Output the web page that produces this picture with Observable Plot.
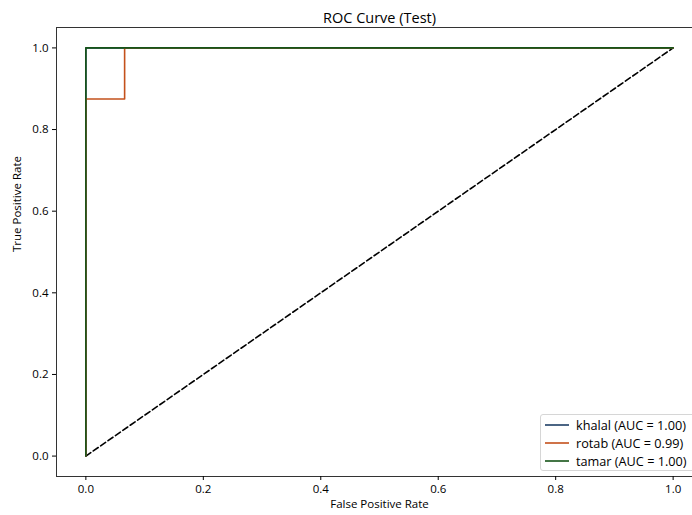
<!DOCTYPE html>
<html>
<head>
<meta charset="utf-8">
<script src="https://cdn.jsdelivr.net/npm/d3@7"></script>
<script src="https://cdn.jsdelivr.net/npm/@observablehq/plot@0.6"></script>
<style>
  html, body { margin: 0; padding: 0; background: #fff; overflow: hidden; width: 692px; height: 515px; }
  #wrap { position: relative; width: 692px; height: 515px; overflow: hidden; }
  #legend { position: absolute; left: 540px; top: 414px; width: 170px; height: 57px;
    border: 1px solid #d6d6d6; border-radius: 3px; background: rgba(255,255,255,0.8);
    font-family: "Open Sans", sans-serif; font-size: 12.7px; color: #000; box-sizing: border-box; padding-top: 1px; }
  .row { display: flex; align-items: center; height: 18px; white-space: nowrap; }
  .row svg { margin-left: 4px; margin-right: 7px; flex: none; }
</style>
</head>
<body>
<div id="wrap"></div>
<script>
// Data
const series = ["khalal", "rotab", "tamar"];
const aucs = ["1.00", "0.99", "1.00"];
const colors = ["#1f3f66", "#c4511c", "#165418"];
const khalalFpr = [0, 0, 1];
const khalalTpr = [0, 1, 1];
const rotabFpr = [0, 0, 0.066, 0.066, 1];
const rotabTpr = [0, 0.875, 0.875, 1, 1];
const tamarFpr = [0, 0, 1];
const tamarTpr = [0, 1, 1];
const chanceFpr = [0, 1];
const chanceTpr = [0, 1];
const xTicks = [0, 0.2, 0.4, 0.6, 0.8, 1.0];
const yTicks = [0, 0.2, 0.4, 0.6, 0.8, 1.0];

const toRows = (xs, ys, name) => xs.map((x, i) => ({x, y: ys[i], name}));
const curves = [
  toRows(khalalFpr, khalalTpr, "khalal"),
  toRows(rotabFpr, rotabTpr, "rotab"),
  toRows(tamarFpr, tamarTpr, "tamar")
];
const chance = toRows(chanceFpr, chanceTpr, "chance");

const font = "'Open Sans', sans-serif";

const plot = Plot.plot({
  width: 704,
  height: 515,
  marginLeft: 56,
  marginRight: 2,
  marginTop: 27,
  marginBottom: 39,
  style: { fontFamily: font, fontSize: "11.5px", color: "#000", background: "#fff" },
  x: { domain: [-0.05, 1.05] },
  y: { domain: [-0.05, 1.05] },
  marks: [
    Plot.line(chance, { x: "x", y: "y", stroke: "#000", strokeWidth: 1.6, strokeDasharray: "6,3" }),
    ...curves.map((rows, i) => Plot.line(rows, { x: "x", y: "y", stroke: colors[i], strokeWidth: 1.6 })),
    Plot.frame({ stroke: "#333", strokeWidth: 1 }),
    Plot.axisX({ ticks: xTicks, tickFormat: d3.format(".1f"), tickSize: 4, tickPadding: 4, label: null, fontSize: 11.5 }),
    Plot.axisY({ ticks: yTicks, tickFormat: d3.format(".1f"), tickSize: 4, tickPadding: 4, label: null, fontSize: 11.5 }),
    Plot.text(["ROC Curve (Test)"], { frameAnchor: "top", dy: -15, fontSize: 14.5, text: d => d }),
    Plot.text(["False Positive Rate"], { frameAnchor: "bottom", dy: 31, fontSize: 11.5, text: d => d }),
    Plot.text(["True Positive Rate"], { frameAnchor: "left", dx: -39, rotate: -90, fontSize: 11.5, text: d => d })
  ]
});
plot.style.overflow = "visible";
plot.style.maxWidth = "none";
const wrap = document.getElementById("wrap");
wrap.appendChild(plot);

// Legend
const legend = document.createElement("div");
legend.id = "legend";
series.forEach((s, i) => {
  const row = document.createElement("div");
  row.className = "row";
  row.innerHTML = `<svg width="24" height="4"><line x1="0" x2="24" y1="2" y2="2" stroke="${colors[i]}" stroke-width="1.6"/></svg><span>${s} (AUC = ${aucs[i]})</span>`;
  legend.appendChild(row);
});
wrap.appendChild(legend);
</script>
</body>
</html>
